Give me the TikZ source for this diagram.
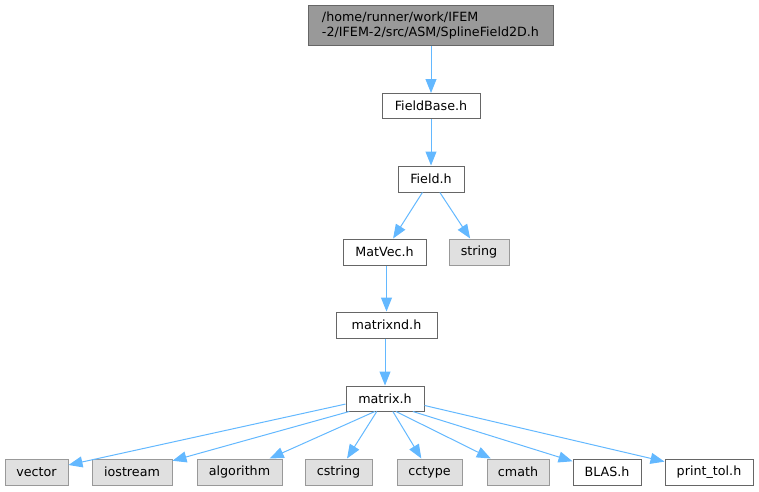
\documentclass[tikz,border=0pt]{standalone}
\usepackage{fontspec}
\setmainfont{DejaVu Sans}
\usetikzlibrary{arrows.meta}
\definecolor{edgec}{HTML}{63B8FF}
\definecolor{boxd}{HTML}{666666}
\definecolor{greyfill}{HTML}{E0E0E0}
\definecolor{greyd}{HTML}{999999}
\begin{document}
\begin{tikzpicture}[x=1pt,y=-1pt,
  font=\fontsize{12.7}{15}\selectfont,
  filebox/.style={draw=boxd,fill=white,line width=1pt,inner sep=0pt,minimum height=25pt},
  sysbox/.style={draw=greyd,fill=greyfill,line width=1pt,inner sep=0pt,minimum height=26pt},
  topbox/.style={draw=boxd,fill=greyd,line width=1pt,inner sep=0pt,minimum width=245pt,minimum height=40pt,align=left},
  dep/.style={draw=edgec,line width=1pt,-{Triangle[length=14pt,width=11pt]}}]
\useasboundingbox (0,0) rectangle (759,491);
\node[topbox] (top) at (430.5,25) {/home/runner/work/IFEM\\-2/IFEM-2/src/ASM/SplineField2D.h};
\node[filebox,minimum width=98pt] (fieldbase) at (431,106) {FieldBase.h};
\node[filebox,minimum width=66pt,minimum height=26pt] (field) at (431,179) {Field.h};
\node[filebox,minimum width=83pt,minimum height=26pt] (matvec) at (384.5,252) {MatVec.h};
\node[sysbox,minimum width=60pt] (string) at (479,252) {string};
\node[filebox,minimum width=101pt,minimum height=26pt] (matrixnd) at (386.5,325) {matrixnd.h};
\node[filebox,minimum width=78pt] (matrix) at (385,398.5) {matrix.h};
\node[sysbox,minimum width=63pt] (vector) at (36.5,472) {vector};
\node[sysbox,minimum width=80pt] (iostream) at (132,472) {iostream};
\node[sysbox,minimum width=85pt] (algorithm) at (239.5,472) {algorithm};
\node[sysbox,minimum width=67pt] (cstring) at (338.5,472) {cstring};
\node[sysbox,minimum width=65pt] (cctype) at (429.5,472) {cctype};
\node[sysbox,minimum width=62pt] (cmath) at (518,472) {cmath};
\node[filebox,minimum width=68pt,minimum height=26pt] (blas) at (607,472) {BLAS.h};
\node[filebox,minimum width=88pt,minimum height=26pt] (printtol) at (709,472) {print\_tol.h};
\draw[dep] (top.south -| fieldbase.north) -- (fieldbase.north);
\draw[dep] (fieldbase) -- (field);
\draw[dep] (field) -- (matvec);
\draw[dep] (field) -- (string);
\draw[dep] (matvec.south -| matrixnd.north) -- (matrixnd.north);
\draw[dep] (matrixnd.south -| matrix.north) -- (matrix.north);
\draw[dep] (matrix.188) -- (vector);
\draw[dep] (matrix.200) -- (iostream);
\draw[dep] (matrix.232) -- (algorithm);
\draw[dep] (matrix) -- (cstring);
\draw[dep] (matrix) -- (cctype);
\draw[dep] (matrix.310) -- (cmath);
\draw[dep] (matrix.335) -- (blas);
\draw[dep] (matrix.350) -- (printtol);
\end{tikzpicture}
\end{document}
